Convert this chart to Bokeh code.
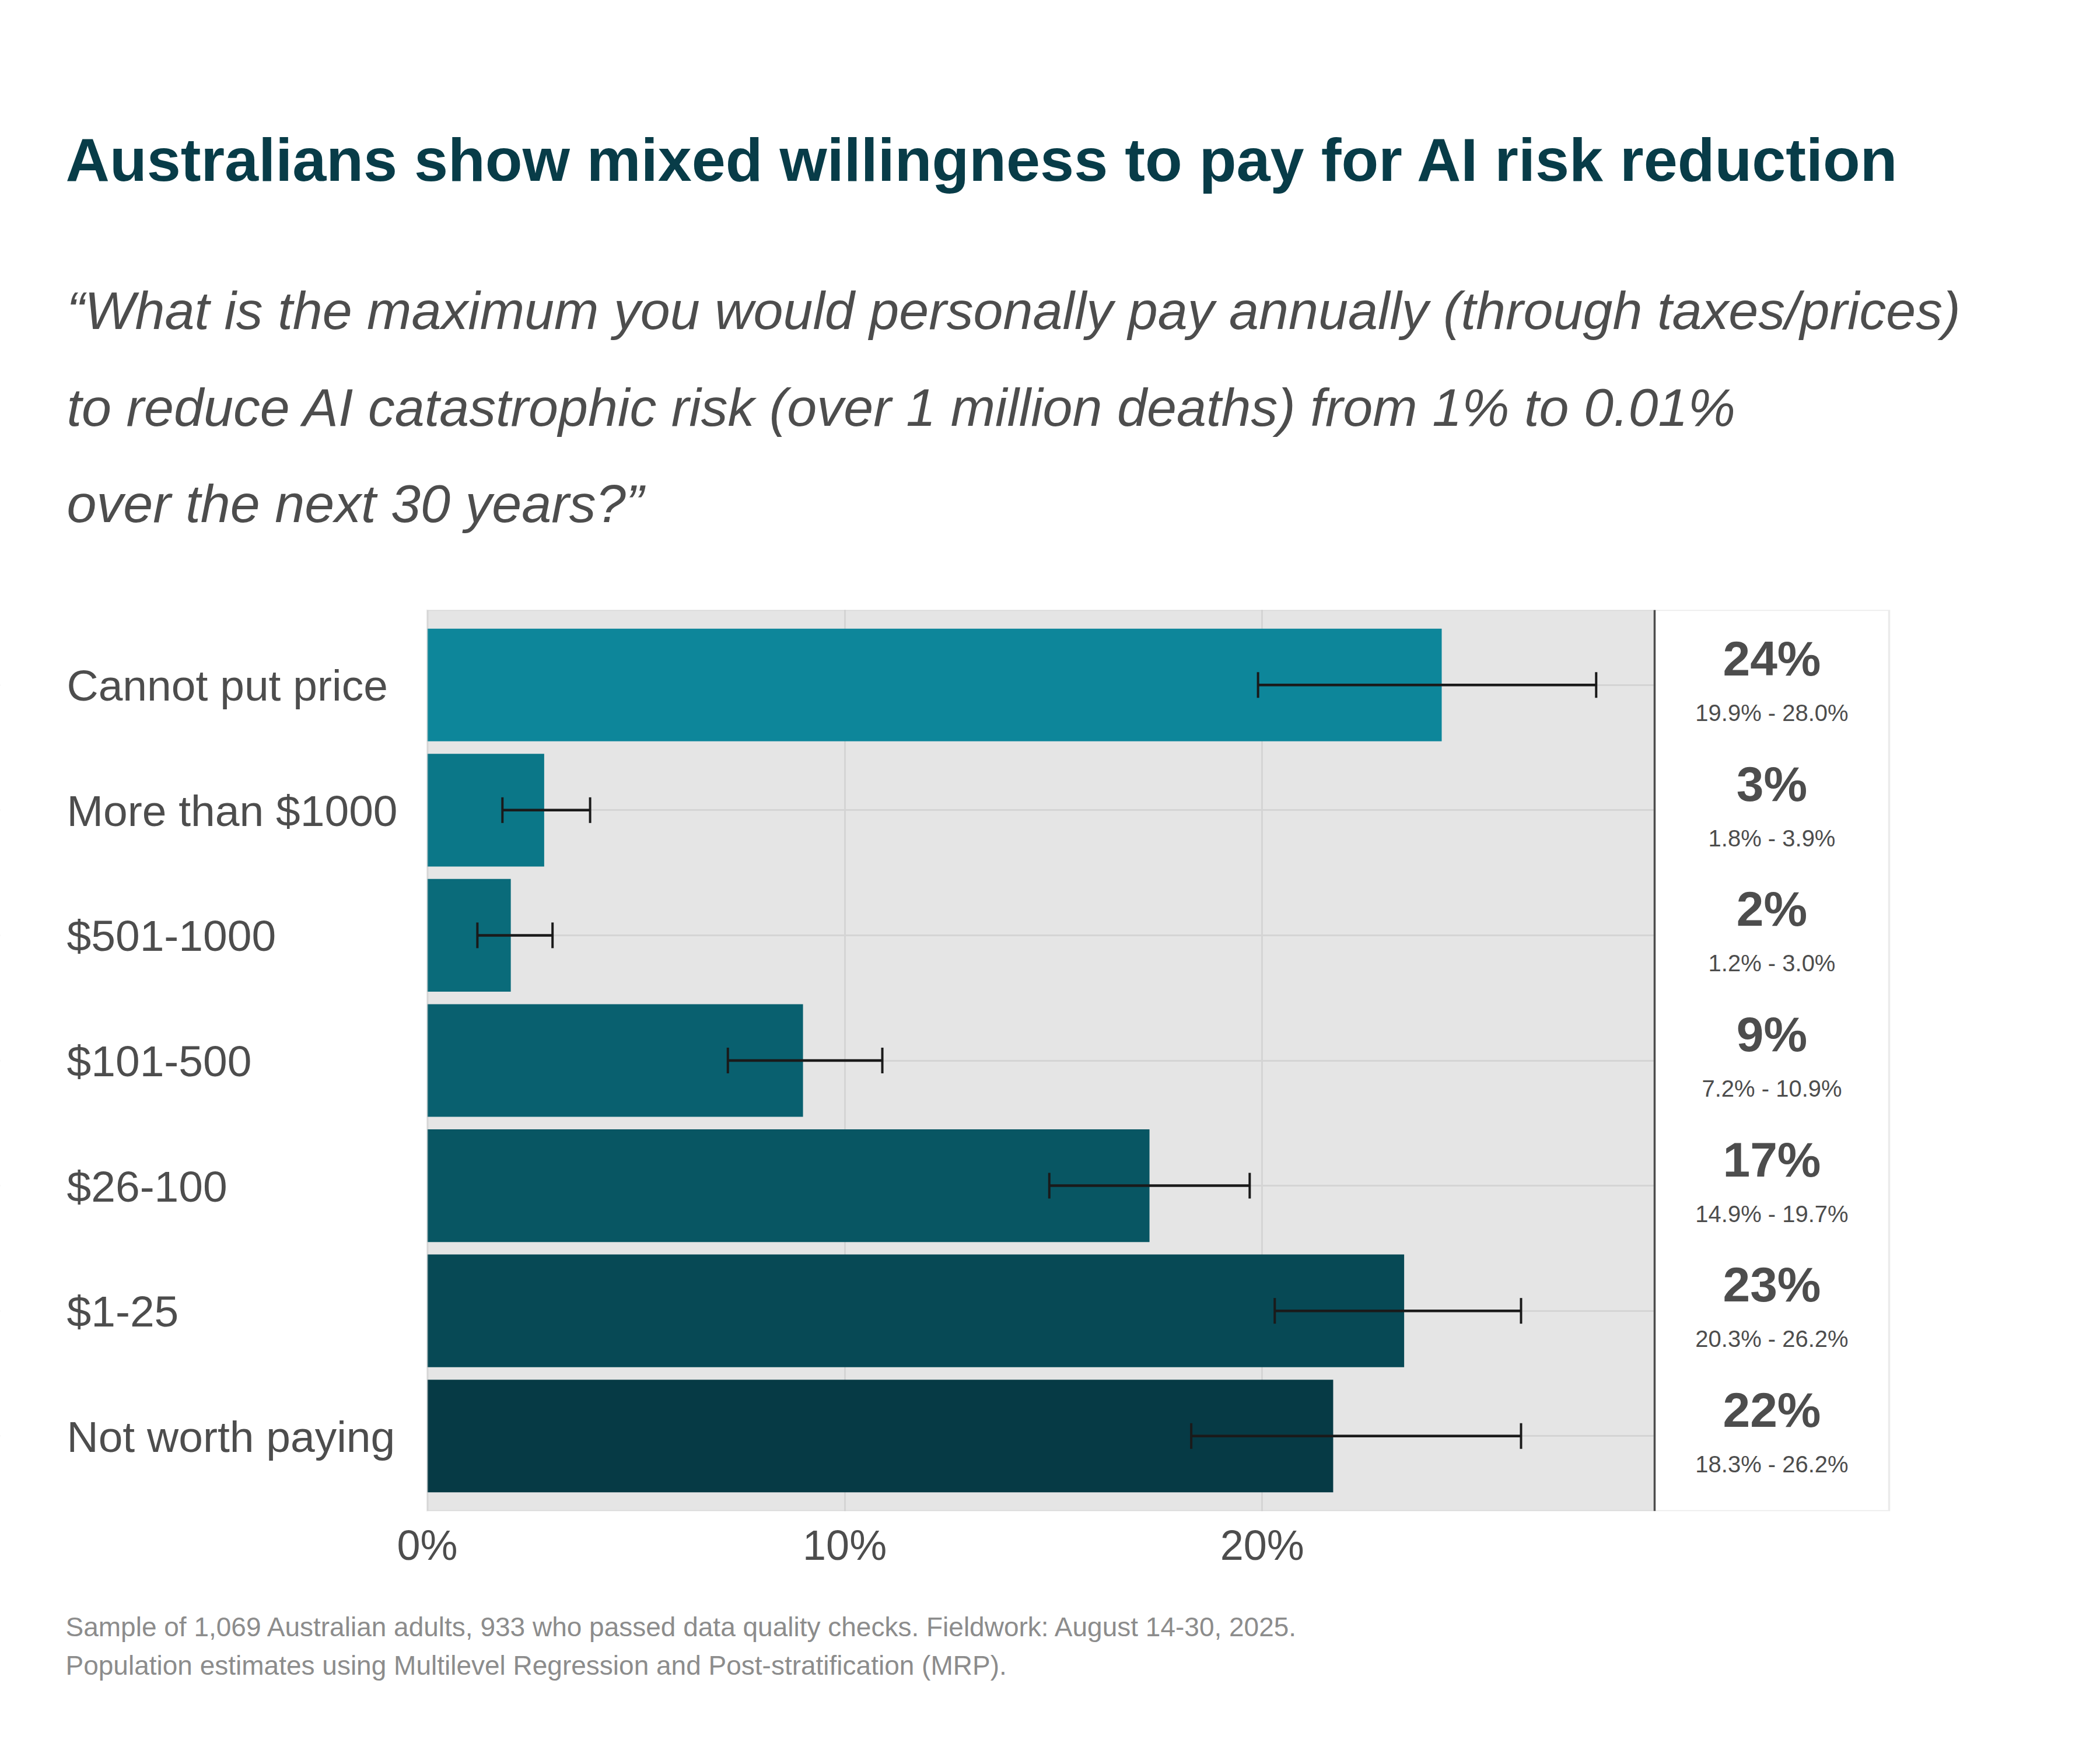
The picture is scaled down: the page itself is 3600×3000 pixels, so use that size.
from bokeh.plotting import figure
from bokeh.layouts import column
from bokeh.models import (ColumnDataSource, Range1d, FixedTicker, PrintfTickFormatter,
                          LabelSet, Whisker, TeeHead, BoxAnnotation, Span)
from bokeh.core.properties import value
from bokeh.embed import file_html
from bokeh.resources import INLINE

# ---------------- data ----------------
categories = ["Cannot put price", "More than $1000", "$501-1000", "$101-500",
              "$26-100", "$1-25", "Not worth paying"]
estimates = [24.3, 2.8, 2.0, 9.0, 17.3, 23.4, 21.7]
ci_low = [19.9, 1.8, 1.2, 7.2, 14.9, 20.3, 18.3]
ci_high = [28.0, 3.9, 3.0, 10.9, 19.7, 26.2, 26.2]
bar_colors = ["#0d869a", "#0b7788", "#0a6b7a", "#09606f", "#085663", "#074955", "#063a45"]
x_ticks = [0, 10, 20]

title_text = "Australians show mixed willingness to pay for AI risk reduction"
subtitle_lines = [
    "\u201cWhat is the maximum you would personally pay annually (through taxes/prices)",
    "to reduce AI catastrophic risk (over 1 million deaths) from 1% to 0.01%",
    "over the next 30 years?\u201d",
]
caption_lines = [
    "Sample of 1,069 Australian adults, 933 who passed data quality checks. Fieldwork: August 14-30, 2025.",
    "Population estimates using Multilevel Regression and Post-stratification (MRP).",
]

# ---------------- layout constants (page pixels) ----------------
FONT = "Liberation Sans"
W = 3584
M = 8
HEADER_H = 1000
FRAME_L, FRAME_R, FRAME_T, FRAME_B = 740, 3246, 1053, 2598
DIVIDER = 2844
MAIN_TOP = M + HEADER_H
BORDER_TOP = FRAME_T - MAIN_TOP
BORDER_BOTTOM = 130
MAIN_H = BORDER_TOP + (FRAME_B - FRAME_T) + BORDER_BOTTOM
FOOTER_H = 2984 - HEADER_H - MAIN_H
FOOTER_TOP = MAIN_TOP + MAIN_H

X_MAX = max(ci_high) * 1.05
PPU = (DIVIDER - FRAME_L) / X_MAX
X_START = -(FRAME_L - M) / PPU
X_PANEL_END = (FRAME_R - FRAME_L) / PPU
X_END = (W + M - FRAME_L) / PPU
n = len(categories)
ypos = [n - i for i in range(n)]
Y_PAD = 0.6
Y_LO, Y_HI = 1 - Y_PAD, n + Y_PAD

pct_labels = [f"{round(v):d}%" for v in estimates]
range_labels = [f"{lo:.1f}% - {hi:.1f}%" for lo, hi in zip(ci_low, ci_high)]

src = ColumnDataSource(dict(
    y=ypos, cat=categories, est=estimates, lo=ci_low, hi=ci_high,
    color=bar_colors, pct=pct_labels, rng=range_labels,
    px=[(X_MAX + X_PANEL_END) / 2] * n,
))


def no_frame_align(f):
    if "frame_align" in f.properties():
        f.frame_align = False


def text_block(height, top, rows):
    """rows: (text, page_x, page_baseline_y, size_px, color, style)"""
    f = figure(width=W, height=height, output_backend="svg", toolbar_location=None,
               title=None, x_range=Range1d(0, W), y_range=Range1d(0, height),
               x_axis_location=None, y_axis_location=None,
               min_border_left=0, min_border_right=0, min_border_top=0, min_border_bottom=0)
    no_frame_align(f)
    f.grid.visible = False
    f.outline_line_color = None
    f.background_fill_color = "white"
    f.border_fill_color = "white"
    s = ColumnDataSource(dict(
        x=[r[1] - M for r in rows],
        y=[height - (r[2] - top) for r in rows],
        text=[r[0] for r in rows],
        size=[f"{r[3]}px" for r in rows],
        color=[r[4] for r in rows],
        style=[r[5] for r in rows],
    ))
    f.add_layout(LabelSet(x="x", y="y", text="text", source=s, text_font=value(FONT),
                          text_font_size="size", text_color="color", text_font_style="style",
                          text_align="left", text_baseline="alphabetic"))
    return f


# ---------------- header ----------------
header_rows = [(title_text, 120, 317, 104.4, "#083c48", "bold")]
for line, base in zip(subtitle_lines, [571, 737, 902]):
    header_rows.append((line, 122, base, 91.7, "#4d4d4d", "italic"))
header = text_block(HEADER_H, M, header_rows)

# ---------------- main plot ----------------
p = figure(width=W, height=MAIN_H, output_backend="svg", toolbar_location=None, title=None,
           x_range=Range1d(X_START, X_END), y_range=Range1d(Y_LO, Y_HI),
           min_border_left=0, min_border_right=0,
           min_border_top=BORDER_TOP, min_border_bottom=BORDER_BOTTOM)
no_frame_align(p)
p.background_fill_color = "white"
p.border_fill_color = "white"
p.outline_line_color = None

# grey panel background (under the grid)
p.add_layout(BoxAnnotation(left=0, right=X_MAX, fill_color="#e5e5e5", fill_alpha=1.0,
                           line_color=None, level="image"))

p.xgrid.ticker = FixedTicker(ticks=x_ticks)
p.ygrid.ticker = FixedTicker(ticks=ypos)
for g in (p.xgrid, p.ygrid):
    g.grid_line_color = "#d4d4d4"
    g.grid_line_width = 3
    g.minor_grid_line_color = None

p.yaxis.visible = False
p.xaxis.ticker = FixedTicker(ticks=x_ticks)
p.xaxis.formatter = PrintfTickFormatter(format="%d%%")
p.xaxis.axis_line_color = None
p.xaxis.major_tick_line_color = None
p.xaxis.minor_tick_line_color = None
p.xaxis.major_label_text_font = FONT
p.xaxis.major_label_text_font_size = "72px"
p.xaxis.major_label_text_color = "#4d4d4d"
p.xaxis.major_label_standoff = 12

p.hbar(y="y", left=0, right="est", height=0.9, fill_color="color",
       line_color=None, source=src)

p.add_layout(Whisker(source=src, base="y", lower="lo", upper="hi", dimension="width",
                     line_color="#1a1a1a", line_width=4.5, level="annotation",
                     lower_head=TeeHead(size=44, line_color="#1a1a1a", line_width=4),
                     upper_head=TeeHead(size=44, line_color="#1a1a1a", line_width=4)))

# white areas outside the grey panel hide the grid lines there
p.add_layout(BoxAnnotation(right=0, fill_color="white", fill_alpha=1.0,
                           line_color=None, level="glyph"))
p.add_layout(BoxAnnotation(left=X_MAX, fill_color="white", fill_alpha=1.0,
                           line_color=None, level="glyph"))

# panel borders
p.add_layout(BoxAnnotation(left=0, right=X_PANEL_END, bottom=Y_LO, top=Y_HI,
                           fill_color=None, fill_alpha=0, line_color="#bebebe",
                           line_width=3.5, level="overlay"))
p.add_layout(Span(location=X_MAX, dimension="height", line_color="#4d4d4d",
                  line_width=3.5, level="overlay"))

# category labels (left aligned)
p.add_layout(LabelSet(x=X_START, y="y", text="cat", source=src, x_offset=122 - M,
                      text_font=value(FONT), text_font_size="75px", text_color="#4d4d4d",
                      text_align="left", text_baseline="alphabetic", y_offset=-27,
                      level="overlay"))

# value column
p.add_layout(LabelSet(x="px", y="y", text="pct", source=src,
                      text_font=value(FONT), text_font_style="bold", text_font_size="84px",
                      text_color="#4d4d4d", text_align="center", text_baseline="alphabetic",
                      y_offset=16, level="overlay"))
p.add_layout(LabelSet(x="px", y="y", text="rng", source=src,
                      text_font=value(FONT), text_font_size="40px",
                      text_color="#4d4d4d", text_align="center", text_baseline="alphabetic",
                      y_offset=-62, level="overlay"))

# ---------------- footer ----------------
footer_rows = [(line, 120, base, 46, "#8c8c8c", "normal")
               for line, base in zip(caption_lines, [2812, 2878])]
footer = text_block(FOOTER_H, FOOTER_TOP, footer_rows)

layout = column(header, p, footer)
open("out.html", "w").write(file_html(layout, INLINE))
